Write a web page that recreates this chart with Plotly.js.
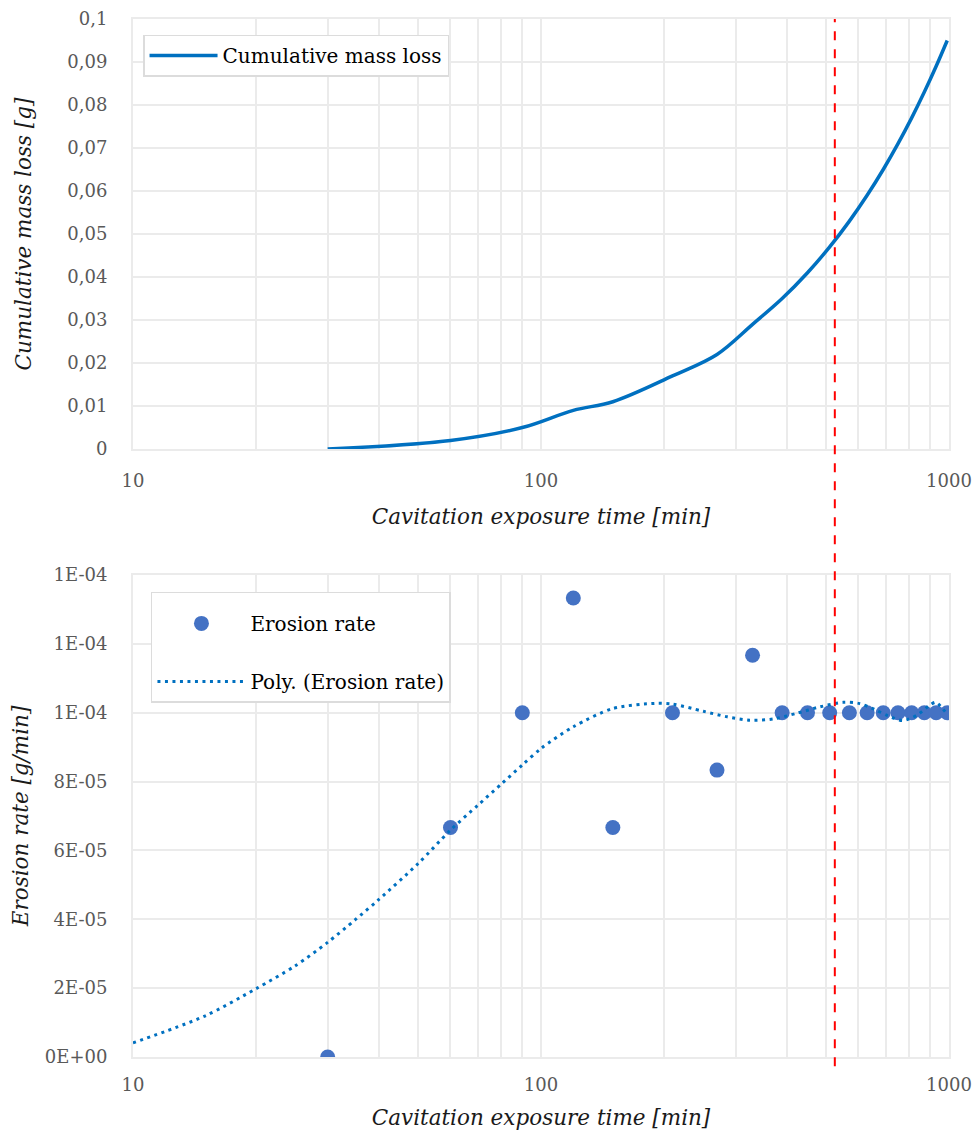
<!DOCTYPE html>
<html>
<head>
<meta charset="utf-8">
<script src="https://cdn.plot.ly/plotly-3.0.1.min.js"></script>
<style>html,body{margin:0;padding:0;background:#fff;}#chart{width:980px;height:1139px;}</style>
</head>
<body>
<div id="chart"></div>
<script>
// ---- data ----
const times = [30, 60, 90, 120, 150, 210, 270, 330, 390, 450, 510, 570, 630, 690, 750, 810, 870, 930, 990];
const cumulativeMassLoss = [0, 0.002, 0.005, 0.009, 0.011, 0.017, 0.022, 0.029, 0.035, 0.041, 0.047, 0.053, 0.059, 0.065, 0.071, 0.077, 0.083, 0.089, 0.095];
const erosionRate = [0, 6.667e-5, 1e-4, 1.333e-4, 6.667e-5, 1e-4, 8.333e-5, 1.1667e-4, 1e-4, 1e-4, 1e-4, 1e-4, 1e-4, 1e-4, 1e-4, 1e-4, 1e-4, 1e-4, 1e-4];
const trendTimes = [10, 15, 20, 25, 30, 35, 40, 50, 60, 70, 80, 90, 100, 120, 150, 190, 210, 250, 286, 325, 372, 424, 483, 550, 601, 655, 708, 771, 835, 898, 929, 984];
const trendRate = [0.41e-5, 1.19e-5, 1.98e-5, 2.65e-5, 3.33e-5, 3.98e-5, 4.57e-5, 5.62e-5, 6.59e-5, 7.31e-5, 7.93e-5, 8.48e-5, 8.96e-5, 9.59e-5, 1.012e-4, 1.027e-4, 1.025e-4, 1.004e-4, 9.88e-5, 9.78e-5, 9.82e-5, 9.985e-5, 1.017e-4, 1.03e-4, 1.027e-4, 1.01e-4, 9.91e-5, 9.77e-5, 9.93e-5, 1.022e-4, 1.03e-4, 9.99e-5];
const thresholdTime = [525];

const xTickVals = [10, 100, 1000];
const xTickText = ['10', '100', '1000'];
const xMinorVals = [20, 30, 40, 50, 60, 70, 80, 90, 200, 300, 400, 500, 600, 700, 800, 900];
const topYTickVals = [0, 0.01, 0.02, 0.03, 0.04, 0.05, 0.06, 0.07, 0.08, 0.09, 0.1];
const topYTickText = ['0', '0,01', '0,02', '0,03', '0,04', '0,05', '0,06', '0,07', '0,08', '0,09', '0,1'];
const botYTickVals = [0, 2e-5, 4e-5, 6e-5, 8e-5, 1e-4, 1.2e-4, 1.4e-4];
const botYTickText = ['0E+00', '2E-05', '4E-05', '6E-05', '8E-05', '1E-04', '1E-04', '1E-04'];

// ---- styling ----
const FONT = 'DejaVu Serif, Liberation Serif, serif';
const GRID = '#ebebeb';
const tickFont = {family: FONT, size: 18, color: '#595959'};
const titleFont = {family: FONT, size: 21.5, color: '#1a1a1a', style: 'italic'};

function xAxis(anchor, standoff, titleStandoff) {
  return {
    type: 'log', range: [1, 3], anchor: anchor,
    tickmode: 'array', tickvals: xTickVals, ticktext: xTickText,
    tickfont: tickFont, showgrid: true, gridcolor: GRID, gridwidth: 2,
    minor: {tickmode: 'array', tickvals: xMinorVals, showgrid: true, gridcolor: GRID, gridwidth: 2, ticks: ''},
    showline: true, mirror: true, linecolor: GRID, linewidth: 2,
    zeroline: false, ticks: '', ticklabelstandoff: standoff,
    title: {text: '<i>Cavitation exposure time [min]</i>', font: titleFont, standoff: titleStandoff},
    automargin: false
  };
}

const traces = [
  {
    x: times, y: cumulativeMassLoss, xaxis: 'x', yaxis: 'y',
    type: 'scatter', mode: 'lines', name: 'Cumulative mass loss',
    line: {color: '#0070C0', width: 3.5, shape: 'spline', smoothing: 1},
    legend: 'legend'
  },
  {
    x: times, y: erosionRate, xaxis: 'x2', yaxis: 'y2',
    type: 'scatter', mode: 'markers', name: 'Erosion rate',
    marker: {color: '#4472C4', size: 15},
    legend: 'legend2', legendgroup: 'a'
  },
  {
    x: trendTimes, y: trendRate, xaxis: 'x2', yaxis: 'y2',
    type: 'scatter', mode: 'lines', name: 'Poly. (Erosion rate)',
    line: {color: '#0070C0', width: 3, dash: '3px,4.5px', shape: 'spline', smoothing: 0.8},
    legend: 'legend2', legendgroup: 'b'
  }
];

const layout = {
  width: 980, height: 1139,
  margin: {l: 133, r: 31, t: 19, b: 82},
  paper_bgcolor: '#ffffff', plot_bgcolor: '#ffffff',
  font: {family: FONT},
  showlegend: true,
  xaxis: xAxis('y', 14, 19),
  yaxis: {
    domain: [0.5857, 1], range: [0, 0.1], anchor: 'x',
    tickmode: 'array', tickvals: topYTickVals, ticktext: topYTickText,
    tickfont: tickFont, showgrid: true, gridcolor: GRID, gridwidth: 2,
    showline: true, mirror: true, linecolor: GRID, linewidth: 2,
    zeroline: false, ticks: '', ticklabelstandoff: 20,
    title: {text: '<i>Cumulative mass loss [g]</i>', font: titleFont, standoff: 30},
    automargin: false
  },
  xaxis2: xAxis('y2', 10, 16),
  yaxis2: {
    domain: [0, 0.4644], range: [0, 1.4e-4], anchor: 'x2',
    tickmode: 'array', tickvals: botYTickVals, ticktext: botYTickText,
    tickfont: tickFont, showgrid: true, gridcolor: GRID, gridwidth: 2,
    showline: true, mirror: true, linecolor: GRID, linewidth: 2,
    zeroline: false, ticks: '', ticklabelstandoff: 20,
    title: {text: '<i>Erosion rate [g/min]</i>', font: titleFont, standoff: 10},
    automargin: false
  },
  legend: {
    x: 0.0123, y: 0.985, xanchor: 'left', yanchor: 'top',
    bgcolor: '#ffffff', bordercolor: '#dcdcdc', borderwidth: 1.5,
    font: {family: FONT, size: 20, color: '#000000'}, itemwidth: 68
  },
  legend2: {
    x: 0.022, y: 0.448, xanchor: 'left', yanchor: 'top',
    bgcolor: '#ffffff', bordercolor: '#dcdcdc', borderwidth: 1.5,
    font: {family: FONT, size: 20, color: '#000000'}, itemwidth: 88,
    traceorder: 'grouped', tracegroupgap: 29, entrywidth: 220,
    title: {text: ' ', font: {family: FONT, size: 8}}
  },
  shapes: [{
    type: 'line', xref: 'x', yref: 'paper',
    x0: thresholdTime[0], x1: thresholdTime[0],
    y0: -0.009, y1: 1.0,
    line: {color: '#ff0000', width: 2, dash: 'dash'}
  }]
};

Plotly.newPlot('chart', traces, layout, {displayModeBar: false, staticPlot: true});
</script>
</body>
</html>
